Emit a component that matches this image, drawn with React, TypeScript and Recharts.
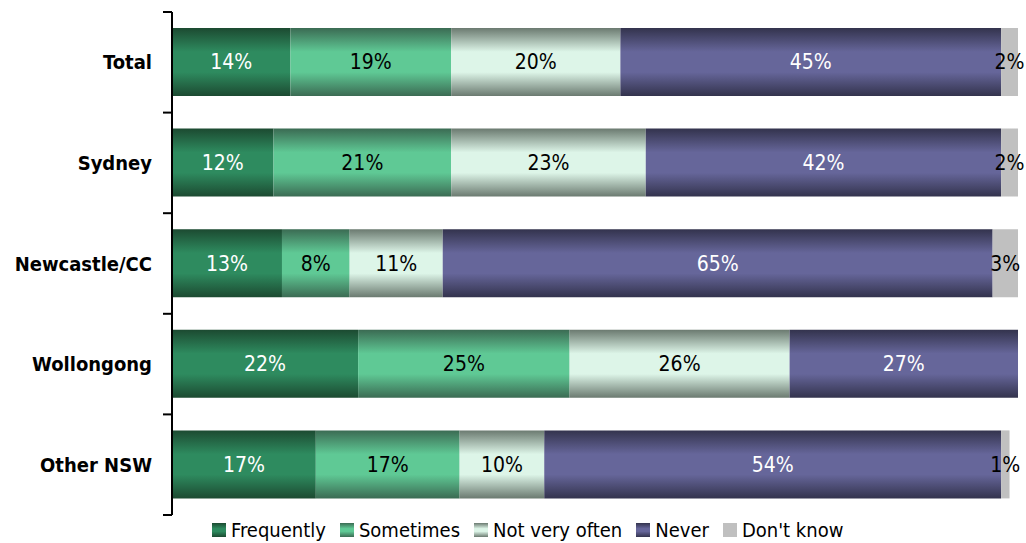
import * as React from "react";
import { BarChart, Bar, XAxis, YAxis, LabelList } from "recharts";

const regions = ["Total", "Sydney", "Newcastle/CC", "Wollongong", "Other NSW"];
const frequently = [14, 12, 13, 22, 17];
const sometimes = [19, 21, 8, 25, 17];
const notVeryOften = [20, 23, 11, 26, 10];
const never = [45, 42, 65, 27, 54];
const dontKnow = [2, 2, 3, 0, 1];

const data = regions.map((region, i) => ({
  region,
  frequently: frequently[i],
  sometimes: sometimes[i],
  notVeryOften: notVeryOften[i],
  never: never[i],
  dontKnow: dontKnow[i],
}));

const FONT = '"Liberation Sans Narrow", "Arial Narrow", "DejaVu Sans Condensed", sans-serif';

const series = [
  { key: "frequently", name: "Frequently", edge: "#1c4a31", mid: "#2e8b5f", text: "#ffffff" },
  { key: "sometimes", name: "Sometimes", edge: "#3b6b53", mid: "#5fc995", text: "#000000" },
  { key: "notVeryOften", name: "Not very often", edge: "#6b7a70", mid: "#ddf5e8", text: "#000000" },
  { key: "never", name: "Never", edge: "#33334d", mid: "#66669a", text: "#ffffff" },
  { key: "dontKnow", name: "Don't know", edge: "#c0c0c0", mid: "#c0c0c0", text: "#000000" },
];

const BAND = 503 / regions.length;

// ticks sit on the band edges, labels in the middle
const RegionTick = (props: any) => {
  const { x, y, payload, index } = props;
  const axisX = x + 6;
  return (
    <g>
      <line x1={axisX - 9} x2={axisX} y1={y - BAND / 2} y2={y - BAND / 2} stroke="#000" strokeWidth={2} />
      {index === regions.length - 1 && (
        <line x1={axisX - 9} x2={axisX} y1={y + BAND / 2} y2={y + BAND / 2} stroke="#000" strokeWidth={2} />
      )}
      <text x={axisX - 20} y={y} dy={7} textAnchor="end" fontSize={20} fontWeight="bold" fontFamily={FONT} fill="#000">
        {payload.value}
      </text>
    </g>
  );
};

const pct = (v: any) => (v ? `${v}%` : "");

export default function App() {
  return (
    <div style={{ position: "absolute", left: 0, top: 0, width: 1026, height: 543, background: "#fff" }}>
      <BarChart
        width={1026}
        height={543}
        data={data}
        layout="vertical"
        margin={{ top: 12, right: 8, bottom: 28, left: 0 }}
      >
        <defs>
          {series.map((s) => (
            <linearGradient key={s.key} id={`grad-${s.key}`} x1="0" y1="0" x2="0" y2="1">
              <stop offset="0%" stopColor={s.edge} />
              <stop offset="35%" stopColor={s.mid} />
              <stop offset="65%" stopColor={s.mid} />
              <stop offset="100%" stopColor={s.edge} />
            </linearGradient>
          ))}
        </defs>
        <XAxis type="number" domain={[0, 100]} hide />
        <YAxis
          type="category"
          dataKey="region"
          width={172}
          axisLine={{ stroke: "#000", strokeWidth: 2 }}
          tickLine={false}
          tickMargin={0}
          tick={<RegionTick />}
        />
        {series.map((s) => (
          <Bar
            key={s.key}
            dataKey={s.key}
            name={s.name}
            stackId="a"
            barSize={68}
            fill={`url(#grad-${s.key})`}
            isAnimationActive={false}
          >
            <LabelList
              dataKey={s.key}
              position="center"
              formatter={pct}
              fill={s.text}
              fontSize={21}
              fontFamily={FONT}
            />
          </Bar>
        ))}
      </BarChart>
      <div
        style={{
          position: "absolute",
          top: 518,
          left: 212,
          display: "flex",
          fontFamily: FONT,
          fontSize: 20,
          color: "#000",
          lineHeight: "24px",
        }}
      >
        {series.map((s) => (
          <div key={s.key} style={{ display: "flex", alignItems: "center", marginRight: 14 }}>
            <span
              style={{
                display: "inline-block",
                width: 14,
                height: 14,
                marginRight: 5,
                background: `linear-gradient(${s.edge}, ${s.mid} 40%, ${s.mid} 60%, ${s.edge})`,
              }}
            />
            <span>{s.name}</span>
          </div>
        ))}
      </div>
    </div>
  );
}
